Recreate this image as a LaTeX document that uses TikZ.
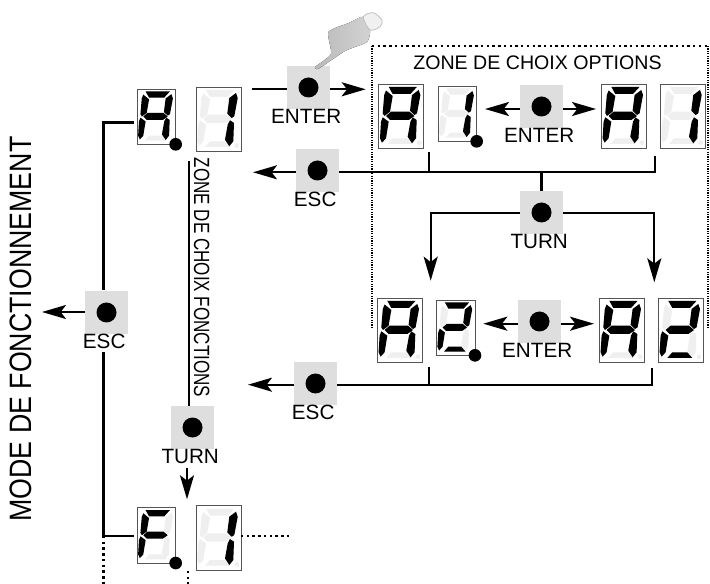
\documentclass[tikz,border=0pt]{standalone}
\usepackage{fontspec}
\usepackage{graphicx}
\setmainfont{Liberation Sans}
\usetikzlibrary{arrows.meta}

\definecolor{btngray}{HTML}{DEDEDE}
\definecolor{segoff}{HTML}{EFEFEF}
\definecolor{boxline}{HTML}{555555}

% the seven segments, in pixels of a big display
\def\sega{(10,2.8)--(38.3,2.8)--(31.7,10)--(14,10)--cycle}
\def\segb{(40,6)--(41.7,11)--(38.3,29.3)--(35.7,31)--(31.3,26.7)--(33.3,11)--cycle}
\def\segc{(34,33.3)--(38,36)--(37.3,54.3)--(33.3,59.3)--(29,52.7)--(31.7,37.7)--cycle}
\def\segd{(9,60)--(14,54.3)--(29,54.3)--(34,60)--cycle}
\def\sege{(4,33.3)--(10,37.7)--(7.3,54.3)--(3.3,58.7)--(1.3,54.3)--(2.3,37.7)--cycle}
\def\segf{(7.3,6.5)--(14,12)--(11.3,27.7)--(5.7,32)--(4,29.3)--(5.5,11)--cycle}
\def\segg{(7.3,32)--(12.3,27.7)--(30.7,27.7)--(35.7,32)--(30,36)--(11.3,36)--cycle}

\newcommand{\segfill}[1]{
  \foreach \s in {a,b,c,d,e,f,g} \fill [segoff] \csname seg\s\endcsname;
  \foreach \s in {#1} \fill [black] \csname seg\s\endcsname;
}
\newcommand{\bigdisp}[4]{
  \node [dispbox, minimum width=33.75pt, minimum height=48.25pt] (#1) at (#2,#3) {};
  \begin{scope}[shift={(#2,#3)}]
    \segfill{#4}
    \fill [segoff] (40.7,58.7) circle (2.4);
  \end{scope}
}
\newcommand{\smalldisp}[4]{
  \node [dispbox, minimum width=29pt, minimum height=41.5pt] (#1) at (#2,#3) {};
  \begin{scope}[shift={(#2,#3)}, xscale=0.86, yscale=0.86]
    \segfill{#4}
  \end{scope}
  \node [pointdot] (#1dot) at (#1.south east) {};
}
\newcommand{\pushbtn}[4]{
  \node [btnbox] (#1) at (#2,#3) {};
  \node [btndot] (#1dot) at (#1) {};
  \node [btntext] (#1text) at (#2-2.3,#3+29) {#4};
}

\begin{document}
\begin{tikzpicture}[x=0.75pt, y=-0.75pt]
\tikzset{ >=latex, inner sep=0pt, outer sep=0pt,
  dispbox/.style={draw=boxline, line width=0.7pt, fill=white, rectangle, anchor=north west},
  pointdot/.style={fill=black, circle, minimum size=9.5pt},
  btnbox/.style={fill=btngray, rectangle, minimum size=32.25pt},
  btndot/.style={fill=black, circle, minimum size=15pt},
  btntext/.style={font=\fontsize{15.5}{16}\selectfont},
  wire/.style={line width=1.7pt},
  arrowwire/.style={line width=1.7pt, -{Stealth[length=18pt, width=10.5pt, inset=4pt]}},
  bigdots/.style={line width=1.8pt, dash pattern=on 1.8pt off 2.5pt},
  smalldots/.style={line width=0.9pt, dash pattern=on 0.9pt off 0.9pt},
}
\useasboundingbox (0,0) rectangle (710,584);

% option zone
\coordinate (zoneTL) at (372,46);
\coordinate (zoneTR) at (708,46);
\coordinate (zoneBL) at (372,328);
\coordinate (zoneBR) at (708,328);
\draw [bigdots] (zoneTL) -- (zoneTR);
\draw [smalldots] (zoneTL) -- (zoneBL);
\draw [smalldots] (zoneTR) -- (zoneBR);
\node (zoneTitle) at (537.5,63) {\fontsize{14.7}{15}\selectfont ZONE DE CHOIX OPTIONS};

% displays
\smalldisp{dispA}{137}{89}{a,b,c,e,f,g}
\bigdisp{dispOne}{196}{87}{b,c}
\bigdisp{optA}{378.7}{84}{a,b,c,e,f,g}
\smalldisp{optOne}{438}{86}{b,c}
\bigdisp{onA}{601.3}{84}{a,b,c,e,f,g}
\bigdisp{onOne}{660}{84}{b,c}
\bigdisp{optB}{377.3}{298}{a,b,c,e,f,g}
\smalldisp{optTwo}{436.3}{300}{a,b,d,e,g}
\bigdisp{onB}{599.3}{298}{a,b,c,e,f,g}
\bigdisp{onTwo}{658.3}{298}{a,b,d,e,g}
\smalldisp{dispF}{137}{507.7}{a,e,f,g}
\bigdisp{dispOneF}{196}{505.7}{b,c}

% buttons
\pushbtn{enterA}{308.5}{87.5}{ENTER}
\pushbtn{escA}{317.5}{170.5}{ESC}
\pushbtn{enterB}{541.5}{106.5}{ENTER}
\pushbtn{turnA}{541.5}{212.5}{TURN}
\pushbtn{enterC}{539.5}{321.5}{ENTER}
\pushbtn{escB}{315.5}{383.5}{ESC}
\pushbtn{escM}{106.5}{312.5}{ESC}
\pushbtn{turnM}{192.5}{427.5}{TURN}

% hand
\fill [left color=gray!55, right color=gray!35] plot [smooth cycle, tension=0.35] coordinates {(315,67) (331,54) (328.3,32)
  (348,23.3) (363.3,16.7) (370,30) (367,42) (345,51) (319,68.5)};
\filldraw [fill=gray!12, draw=gray!55, line width=0.5pt] plot [smooth cycle, tension=0.5] coordinates {(363.3,17) (373,12.7) (382,20)
  (380,26.7) (370,30)};

% free ends
\coordinate (enterIn) at (252,89.3);
\coordinate (enterOut) at (365.7,89.3);
\coordinate (escOut) at (253,172.3);
\coordinate (busEnd) at (655,172.3);
\coordinate (busMid) at (541.5,172.3);
\coordinate (tickA) at (429,151.7);
\coordinate (tickAb) at (429,172.3);
\coordinate (tickB) at (655,156);
\coordinate (leftTip) at (430.7,280.7);
\coordinate (leftTop) at (430.7,212.7);
\coordinate (rightTip) at (654.3,282.3);
\coordinate (rightTop) at (654.3,212.7);
\coordinate (optLeft) at (485,109);
\coordinate (optRight) at (596,109);
\coordinate (twoLeft) at (483.3,323.7);
\coordinate (twoRight) at (594,323.7);
\coordinate (lowOut) at (248,384.7);
\coordinate (lowEnd) at (651.7,384.7);
\coordinate (lowTickA) at (429.3,367);
\coordinate (lowTickAb) at (429.3,384.7);
\coordinate (lowTickB) at (651.7,368);
\coordinate (mainTop) at (134,122.5);
\coordinate (mainCorner) at (103.5,122.5);
\coordinate (mainGap) at (103.5,290);
\coordinate (mainGapb) at (103.5,352);
\coordinate (mainCornerb) at (103.5,536);
\coordinate (mainBottom) at (134,536);
\coordinate (mainOut) at (42,312);
\coordinate (fnTop) at (189,161);
\coordinate (turnIn) at (187,467.7);
\coordinate (turnTip) at (187,499.3);
\coordinate (dotsRight) at (292,536);
\coordinate (dotsDown) at (103.5,584);
\coordinate (dotsOther) at (187.7,571);
\coordinate (dotsOtherb) at (187.7,584);

% connectors
\draw [wire] (enterIn) -- (enterIn -| enterA.west);
\draw [arrowwire] (enterOut -| enterA.east) -- (enterOut);
\draw [arrowwire] (escOut -| escA.west) -- (escOut);
\draw [wire] (busEnd -| escA.east) -- (busEnd) -- (tickB);
\draw [wire] (tickA) -- (tickAb);
\draw [wire] (busMid) -- (turnA.north);
\draw [arrowwire] (leftTop -| turnA.west) -- (leftTop) -- (leftTip);
\draw [arrowwire] (rightTop -| turnA.east) -- (rightTop) -- (rightTip);
\draw [arrowwire] (optLeft -| enterB.west) -- (optLeft);
\draw [arrowwire] (optRight -| enterB.east) -- (optRight);
\draw [arrowwire] (twoLeft -| enterC.west) -- (twoLeft);
\draw [arrowwire] (twoRight -| enterC.east) -- (twoRight);
\draw [arrowwire] (lowOut -| escB.west) -- (lowOut);
\draw [wire] (lowEnd -| escB.east) -- (lowEnd) -- (lowTickB);
\draw [wire] (lowTickA) -- (lowTickAb);
\draw [wire] (mainTop) -- (mainCorner) -- (mainGap);
\draw [wire] (mainGapb) -- (mainCornerb) -- (mainBottom);
\draw [arrowwire] (mainOut -| escM.west) -- (mainOut);
\draw [wire] (fnTop) -- (fnTop |- turnM.north);
\draw [arrowwire] (turnIn) -- (turnTip);
\draw [bigdots] (dispOneF.east |- dotsRight) -- (dotsRight);
\draw [bigdots] (mainCornerb) -- (dotsDown);
\draw [bigdots] (dotsOther) -- (dotsOtherb);

% side texts
\node [rotate=90] (modeText) at (21,329) {\fontsize{23.2}{24}\selectfont\scalebox{0.865}[1]{MODE DE FONCTIONNEMENT}};
\node [rotate=-90] (zoneFn) at (201.7,277.5) {\fontsize{16.5}{17}\selectfont\scalebox{0.775}[1]{ZONE DE CHOIX FONCTIONS}};

\end{tikzpicture}
\end{document}
